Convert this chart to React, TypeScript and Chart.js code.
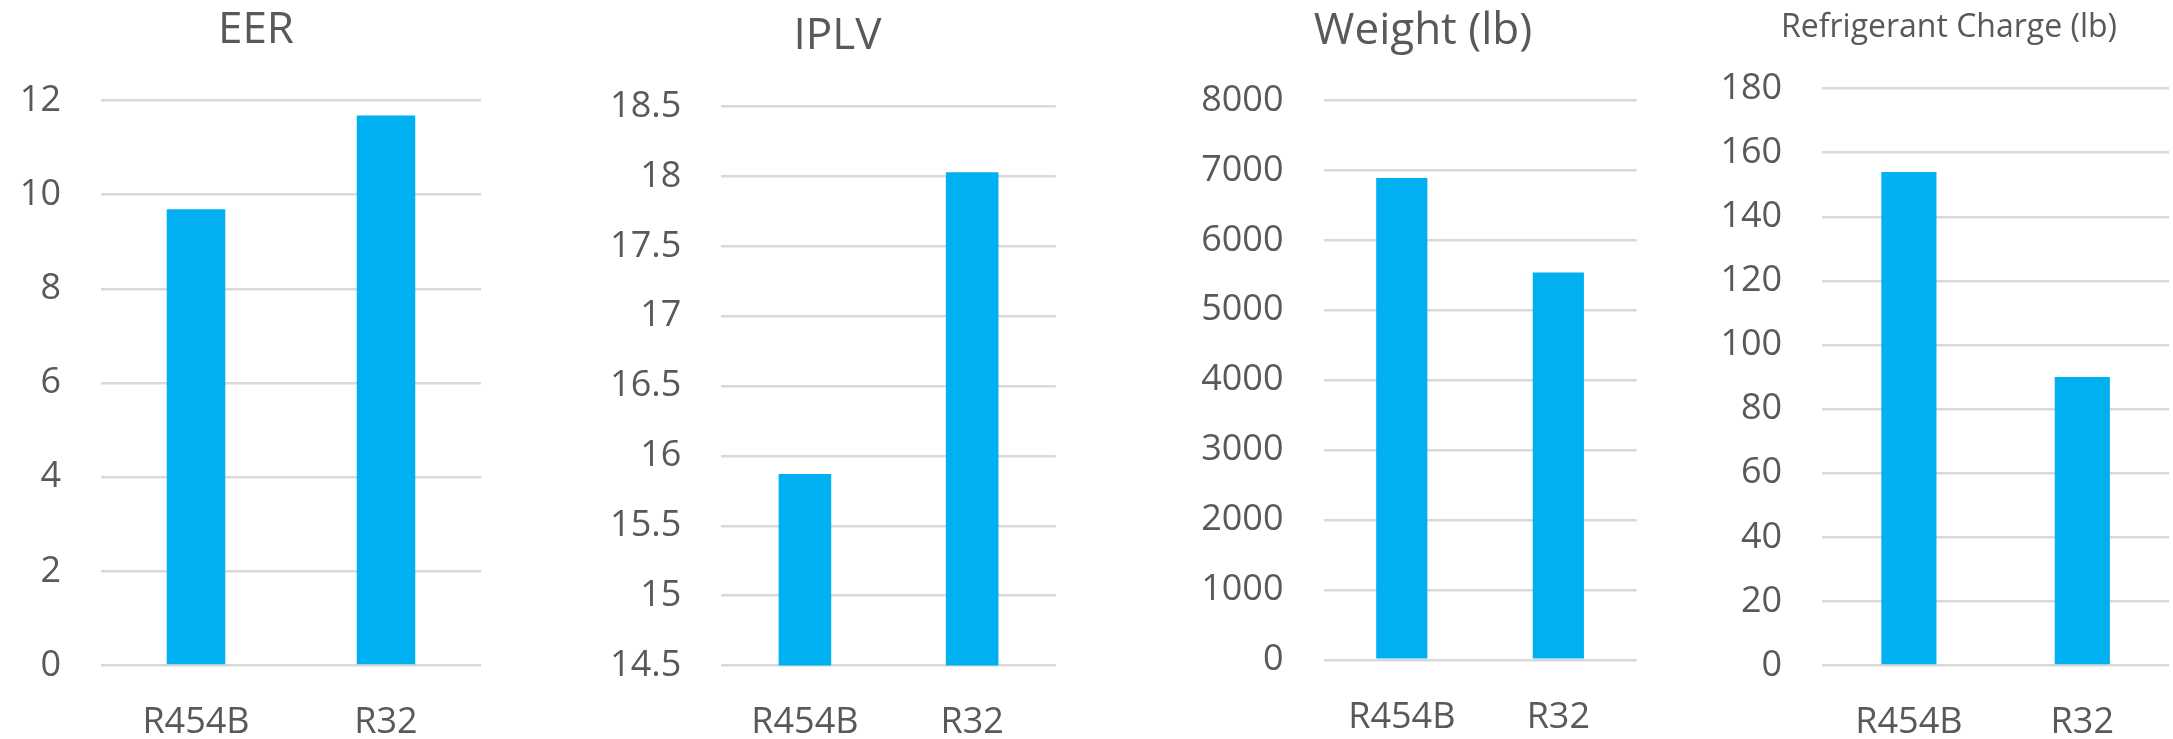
import React, { useEffect, useRef } from "react";
import { Chart, registerables } from "chart.js";

Chart.register(...registerables);

// ---------- data ----------
const categories = ["R454B", "R32"];

const eerValues = [9.69, 11.68];
const iplvValues = [15.87, 18.03];
const weightValues = [6890, 5540];
const chargeValues = [154, 90];

const chartTitles = ["EER", "IPLV", "Weight (lb)", "Refrigerant Charge (lb)"];

const eerAxis = [0, 12, 2];
const iplvAxis = [14.5, 18.5, 0.5];
const weightAxis = [0, 8000, 1000];
const chargeAxis = [0, 180, 20];

// ---------- style / layout ----------
const FONT = "'Open Sans', 'Noto Sans', sans-serif";
const TEXT_COLOR = "#595959";
const BAR_COLOR = "#00B0F0";
const GRID_COLOR = "#d9d9d9";
const H = 739;
const TICK_SIZE = 36;

type Panel = {
  left: number;
  width: number;
  areaLeft: number;
  areaRight: number;
  areaTop: number;
  areaBottom: number;
  titleSize: number;
  titleMid: number;
  labelMid: number;
  barFrac: number;
};

const panels: Panel[] = [
  { left: 0, width: 512, areaLeft: 101, areaRight: 481, areaTop: 100.4, areaBottom: 665.5, titleSize: 44, titleMid: 27.5, labelMid: 720, barFrac: 0.308 },
  { left: 590, width: 495, areaLeft: 721.3, areaRight: 1055.8, areaTop: 106.5, areaBottom: 665.5, titleSize: 44, titleMid: 33.7, labelMid: 720, barFrac: 0.3145 },
  { left: 1150, width: 546, areaLeft: 1323.5, areaRight: 1636.6, areaTop: 100.4, areaBottom: 659.8, titleSize: 44, titleMid: 28.3, labelMid: 714.8, barFrac: 0.327 },
  { left: 1700, width: 498, areaLeft: 1822.2, areaRight: 2169, areaTop: 88.6, areaBottom: 665.5, titleSize: 32, titleMid: 25.9, labelMid: 720, barFrac: 0.318 },
];

const seriesList = [eerValues, iplvValues, weightValues, chargeValues];
const axisList = [eerAxis, iplvAxis, weightAxis, chargeAxis];

function BarPanel({ index }: { index: number }) {
  const ref = useRef<HTMLCanvasElement | null>(null);
  const p = panels[index];

  useEffect(() => {
    if (!ref.current) return;
    const [min, max, step] = axisList[index];
    const titlePadTop = p.titleMid - 0.528 * p.titleSize;
    const titlePadBottom = p.areaTop - titlePadTop - 1.2 * p.titleSize;
    const xPad = p.labelMid + 0.072 * TICK_SIZE - 0.6 * TICK_SIZE - p.areaBottom;
    const rightSpace = p.left + p.width - p.areaRight;

    const chart = new Chart(ref.current, {
      type: "bar",
      data: {
        labels: categories,
        datasets: [
          {
            data: seriesList[index],
            backgroundColor: BAR_COLOR,
            borderWidth: 0,
            barPercentage: 1,
            categoryPercentage: p.barFrac,
          },
        ],
      },
      options: {
        animation: false,
        responsive: true,
        maintainAspectRatio: false,
        layout: { padding: 0 },
        plugins: {
          legend: { display: false },
          tooltip: { enabled: false },
          title: {
            display: true,
            text: chartTitles[index],
            color: TEXT_COLOR,
            font: { family: FONT, size: p.titleSize, weight: "normal" as any, lineHeight: 1.2 },
            padding: { top: titlePadTop, bottom: titlePadBottom },
          },
        },
        scales: {
          x: {
            grid: { display: false, drawTicks: false },
            border: { display: false },
            ticks: {
              color: TEXT_COLOR,
              font: { family: FONT, size: TICK_SIZE },
              padding: xPad,
              autoSkip: false,
              maxRotation: 0,
            },
            afterFit: (scale: any) => {
              scale.height = H - p.areaBottom;
            },
          },
          y: {
            min,
            max,
            grid: { color: GRID_COLOR, lineWidth: 2.5, drawTicks: false },
            border: { display: false },
            ticks: {
              stepSize: step,
              color: TEXT_COLOR,
              font: { family: FONT, size: TICK_SIZE },
              padding: 40,
              callback: (v: any) => String(Math.round(Number(v) * 10) / 10),
            },
            afterFit: (scale: any) => {
              scale.width = p.areaLeft - p.left;
            },
          },
          // empty spacer on the right so the title stays centred on the full panel
          yRight: {
            position: "right",
            min,
            max,
            grid: { display: false, drawTicks: false },
            border: { display: false },
            ticks: { display: false },
            afterFit: (scale: any) => {
              scale.width = rightSpace;
            },
          },
        },
      },
    });
    return () => chart.destroy();
  }, [index]);

  return (
    <div style={{ position: "absolute", left: p.left, top: 0, width: p.width, height: H }}>
      <canvas ref={ref} />
    </div>
  );
}

export default function App() {
  return (
    <div
      style={{
        position: "fixed",
        left: 0,
        top: 0,
        width: 2173,
        height: H,
        overflow: "hidden",
        background: "#ffffff",
      }}
    >
      {panels.map((_, i) => (
        <BarPanel key={i} index={i} />
      ))}
    </div>
  );
}
